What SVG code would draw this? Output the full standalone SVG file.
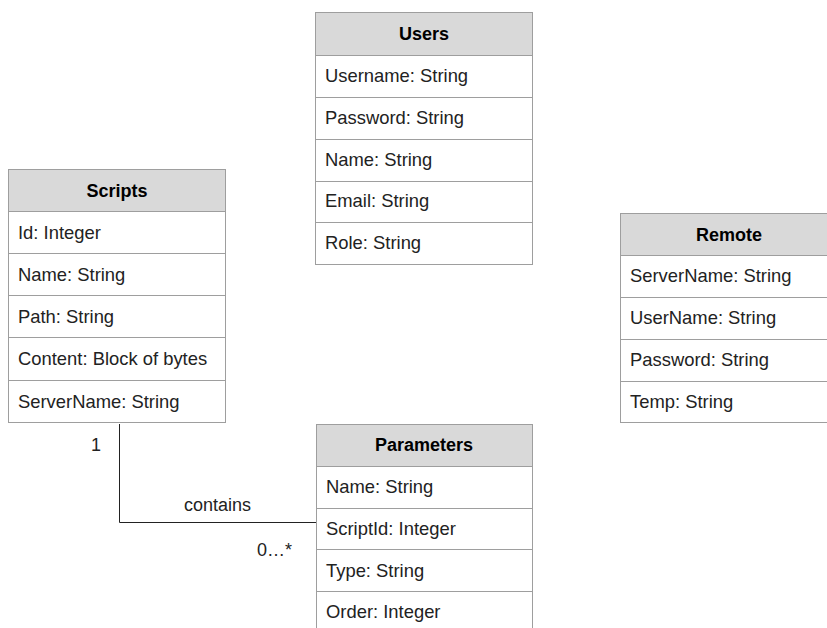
<svg xmlns="http://www.w3.org/2000/svg" width="827" height="628" viewBox="0 0 827 628">
  <style>
    .box { fill: #ffffff; stroke: #9e9e9e; stroke-width: 1; }
    .head { fill: #d9d9d9; stroke: #9e9e9e; stroke-width: 1; }
    .sep { stroke: #9e9e9e; stroke-width: 1; }
    .title { font-family: "Liberation Sans", Arial, sans-serif; font-size: 18px; font-weight: bold; fill: #000; text-anchor: middle; }
    .attr { font-family: "Liberation Sans", Arial, sans-serif; font-size: 18.4px; fill: #222; }
    .lbl { font-family: "Liberation Sans", Arial, sans-serif; font-size: 18px; fill: #222; }
    .wire { fill: none; stroke: #222; stroke-width: 1; }
  </style>
  <rect width="827" height="628" fill="#ffffff"/>

  <g id="users">
    <rect class="box" x="315.5" y="12.5" width="217" height="252"/>
    <rect class="head" x="315.5" y="12.5" width="217" height="43"/>
    <line class="sep" x1="315.5" y1="97.5" x2="532.5" y2="97.5"/>
    <line class="sep" x1="315.5" y1="139.5" x2="532.5" y2="139.5"/>
    <line class="sep" x1="315.5" y1="181.5" x2="532.5" y2="181.5"/>
    <line class="sep" x1="315.5" y1="222.5" x2="532.5" y2="222.5"/>
    <text class="title" x="424" y="40">Users</text>
    <text class="attr" x="325" y="82">Username: String</text>
    <text class="attr" x="325" y="124">Password: String</text>
    <text class="attr" x="325" y="166">Name: String</text>
    <text class="attr" x="325" y="207">Email: String</text>
    <text class="attr" x="325" y="249">Role: String</text>
  </g>

  <g id="scripts">
    <rect class="box" x="8.5" y="169.5" width="217" height="253"/>
    <rect class="head" x="8.5" y="169.5" width="217" height="42"/>
    <line class="sep" x1="8.5" y1="253.5" x2="225.5" y2="253.5"/>
    <line class="sep" x1="8.5" y1="295.5" x2="225.5" y2="295.5"/>
    <line class="sep" x1="8.5" y1="337.5" x2="225.5" y2="337.5"/>
    <line class="sep" x1="8.5" y1="380.5" x2="225.5" y2="380.5"/>
    <text class="title" x="117" y="197">Scripts</text>
    <text class="attr" x="18" y="239">Id: Integer</text>
    <text class="attr" x="18" y="281">Name: String</text>
    <text class="attr" x="18" y="323">Path: String</text>
    <text class="attr" x="18" y="365">Content: Block of bytes</text>
    <text class="attr" x="18" y="408">ServerName: String</text>
  </g>

  <g id="remote">
    <rect class="box" x="620.5" y="213.5" width="217" height="209"/>
    <rect class="head" x="620.5" y="213.5" width="217" height="42"/>
    <line class="sep" x1="620.5" y1="297.5" x2="837.5" y2="297.5"/>
    <line class="sep" x1="620.5" y1="339.5" x2="837.5" y2="339.5"/>
    <line class="sep" x1="620.5" y1="381.5" x2="837.5" y2="381.5"/>
    <text class="title" x="729" y="241">Remote</text>
    <text class="attr" x="630" y="282">ServerName: String</text>
    <text class="attr" x="630" y="324">UserName: String</text>
    <text class="attr" x="630" y="366">Password: String</text>
    <text class="attr" x="630" y="408">Temp: String</text>
  </g>

  <g id="parameters">
    <rect class="box" x="316.5" y="424.5" width="216" height="230"/>
    <rect class="head" x="316.5" y="424.5" width="216" height="42"/>
    <line class="sep" x1="316.5" y1="508.5" x2="532.5" y2="508.5"/>
    <line class="sep" x1="316.5" y1="549.5" x2="532.5" y2="549.5"/>
    <line class="sep" x1="316.5" y1="591.5" x2="532.5" y2="591.5"/>
    <text class="title" x="424" y="451">Parameters</text>
    <text class="attr" x="326" y="493">Name: String</text>
    <text class="attr" x="326" y="535">ScriptId: Integer</text>
    <text class="attr" x="326" y="577">Type: String</text>
    <text class="attr" x="326" y="618">Order: Integer</text>
  </g>

  <g id="connectors">
    <polyline class="wire" points="119.5,424 119.5,522.5 316,522.5"/>
    <text class="lbl" x="91" y="451">1</text>
    <text class="lbl" x="184" y="511">contains</text>
    <text class="lbl" x="257" y="556">0…*</text>
  </g>
</svg>
